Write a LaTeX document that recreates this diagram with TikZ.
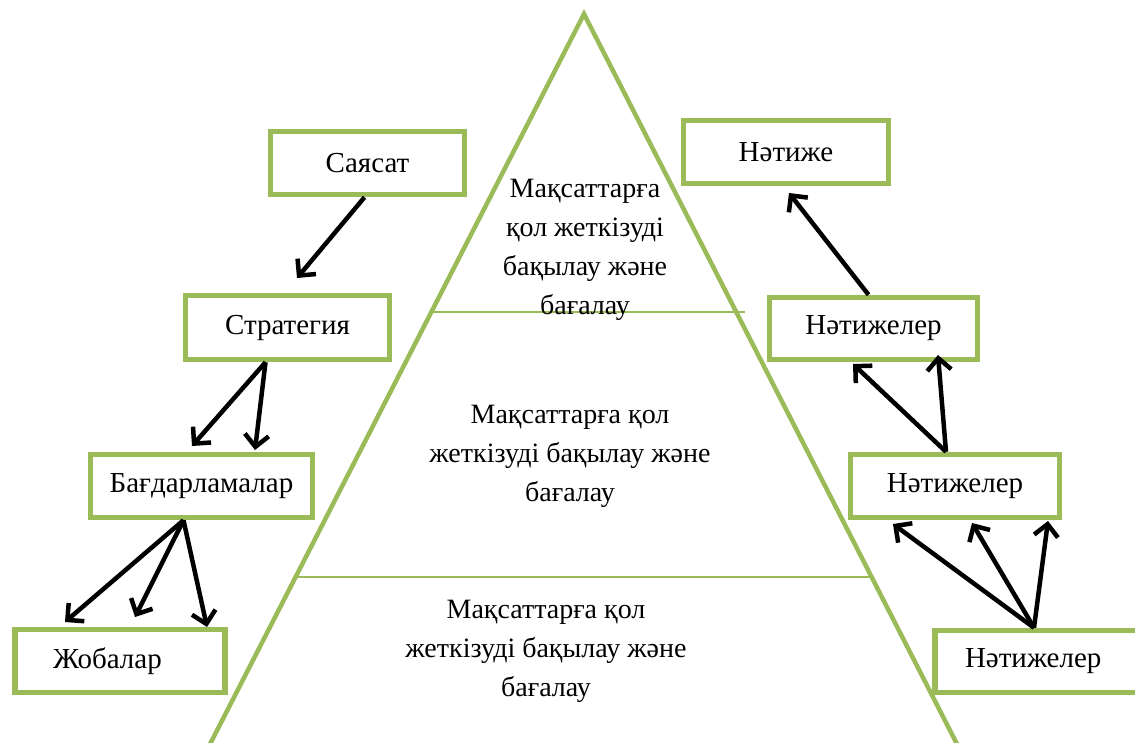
\documentclass[tikz,border=0pt]{standalone}
\usepackage{fontspec}
\setmainfont{Liberation Serif}
\usetikzlibrary{arrows.meta}
\definecolor{leafgreen}{HTML}{9BBB59}
\tikzset{
    box/.style={draw=leafgreen, line width=5.5pt, fill=white, minimum height=63pt, font=\fontsize{29}{40}\selectfont},
    arr/.style={line width=4.5pt, -{Straight Barb[length=12pt,width=24pt]}},
    level/.style={align=center, font=\fontsize{28}{39}\selectfont}
}

\begin{document}
\begin{tikzpicture}[x=1pt, y=-1pt]
        \useasboundingbox (0,0) rectangle (1135,742);
        \clip (0,0) rectangle (1135,742);

        % Draw the pyramid
            \draw[leafgreen, line width=4.5pt, line join=miter] (207,750) -- (584,14) -- (960,750);
            \draw[leafgreen, line width=2.2pt] (432,312) -- (745,312);
            \draw[leafgreen, line width=2.2pt] (297,577) -- (870,577);

        % Draw the texts of the levels
            \node[level] (top) at (585,250) {Мақсаттарға\\қол жеткізуді\\бақылау және\\бағалау};
            \node[level] (mid) at (570,456) {Мақсаттарға қол\\жеткізуді бақылау және\\бағалау};
            \node[level] (low) at (546,651) {Мақсаттарға қол\\жеткізуді бақылау және\\бағалау};

        % Draw the boxes on the left
            \node[box, minimum width=194pt] (sayasat) at (367.5,163) {Саясат};
            \node[box, minimum width=204pt, minimum height=64pt] (strat) at (287.5,327.5) {Стратегия};
            \node[box, minimum width=222pt] (bagdar) at (201.5,486) {Бағдарламалар};
            \node[box, text width=134pt, inner xsep=38pt, align=left] (zhoba) at (120,661) {Жобалар};

        % Draw the boxes on the right
            \node[box, minimum width=205pt] (natizhe) at (786,152) {Нәтиже};
            \node[box, minimum width=208pt, minimum height=62pt] (nat1) at (873.5,328.5) {Нәтижелер};
            \node[box, minimum width=209pt] (nat2) at (955,486) {Нәтижелер};
            \node[box, text width=170pt, inner xsep=30pt, align=left, minimum height=62pt] (nat3) at (1050,661.5) {Нәтижелер};

        % Free ends of the arrows
            \coordinate (s1) at (297,278);
            \coordinate (b1) at (192,446);
            \coordinate (b2) at (255,450);
            \coordinate (j1) at (65,622);
            \coordinate (j2) at (135,617);
            \coordinate (j3) at (207,627);
            \coordinate (n0) at (789,193);
            \coordinate (n1) at (853,364);
            \coordinate (n2) at (938,355);
            \coordinate (m1) at (893,524);
            \coordinate (m2) at (972,523);
            \coordinate (m3) at (1048,521);

        % Draw the arrows on the left
            \draw[arr] ([xshift=-3pt]sayasat.south) -- (s1);
            \draw[arr] ([xshift=-22pt]strat.south) -- (b1);
            \draw[arr] ([xshift=-22pt]strat.south) -- (b2);
            \draw[arr] ([xshift=-18pt]bagdar.south) -- (j1);
            \draw[arr] ([xshift=-18pt]bagdar.south) -- (j2);
            \draw[arr] ([xshift=-18pt]bagdar.south) -- (j3);

        % Draw the arrows on the right
            \draw[arr] ([xshift=-5pt]nat1.north) -- (n0);
            \draw[arr] ([xshift=-9pt]nat2.north) -- (n1);
            \draw[arr] ([xshift=-9pt]nat2.north) -- (n2);
            \draw[arr] ([xshift=-16pt]nat3.north) -- (m1);
            \draw[arr] ([xshift=-16pt]nat3.north) -- (m2);
            \draw[arr] ([xshift=-16pt]nat3.north) -- (m3);
\end{tikzpicture}
\end{document}
